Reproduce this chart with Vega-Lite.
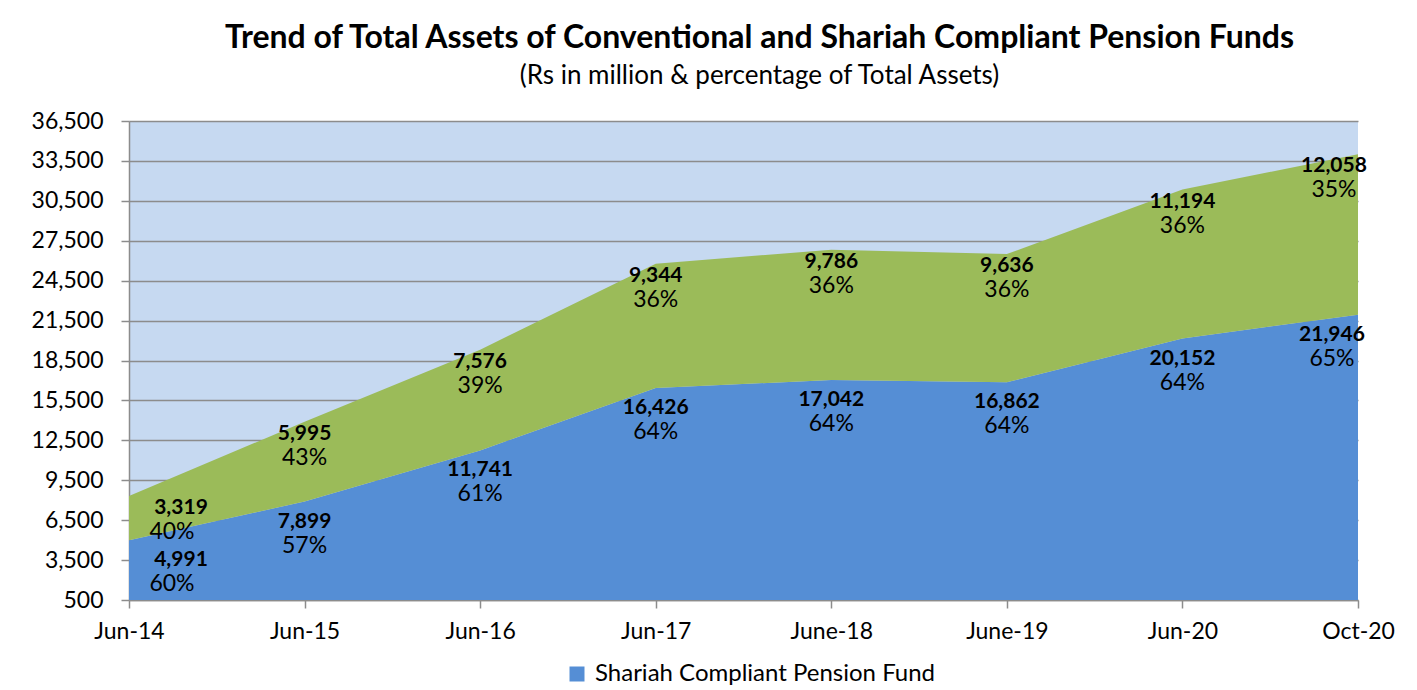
{
  "$schema": "https://vega.github.io/schema/vega-lite/v6.json",
  "width": 1229,
  "height": 479,
  "autosize": {"type": "none"},
  "padding": {"left": 129, "top": 121, "right": 59, "bottom": 90},
  "background": "white",
  "title": {
    "text": "Trend of Total Assets of Conventional and Shariah Compliant Pension  Funds",
    "subtitle": "(Rs in million & percentage of Total Assets)",
    "anchor": "middle",
    "font": "Lato",
    "fontSize": 32,
    "fontWeight": "bold",
    "color": "black",
    "subtitleFont": "Lato",
    "subtitleFontSize": 26,
    "subtitleColor": "black",
    "subtitlePadding": 8,
    "offset": 20,
    "dx": 16
  },
  "config": {
    "view": {"fill": "#c6d9f1", "stroke": null},
    "axis": {
      "labelFont": "Lato",
      "labelFontSize": 23,
      "labelColor": "black",
      "domainColor": "#8c8c8c",
      "domainWidth": 1.5,
      "tickColor": "#8c8c8c",
      "tickWidth": 1.5,
      "tickSize": 8,
      "gridColor": "#8c8c8c",
      "gridWidth": 1.5,
      "gridOpacity": 1,
      "title": null
    }
  },
  "data": {
    "values": [
      {"date": "Jun-14", "series": "Shariah Compliant Pension Fund", "value": 4991, "pct": "60%"},
      {"date": "Jun-15", "series": "Shariah Compliant Pension Fund", "value": 7899, "pct": "57%"},
      {"date": "Jun-16", "series": "Shariah Compliant Pension Fund", "value": 11741, "pct": "61%"},
      {"date": "Jun-17", "series": "Shariah Compliant Pension Fund", "value": 16426, "pct": "64%"},
      {"date": "June-18", "series": "Shariah Compliant Pension Fund", "value": 17042, "pct": "64%"},
      {"date": "June-19", "series": "Shariah Compliant Pension Fund", "value": 16862, "pct": "64%"},
      {"date": "Jun-20", "series": "Shariah Compliant Pension Fund", "value": 20152, "pct": "64%"},
      {"date": "Oct-20", "series": "Shariah Compliant Pension Fund", "value": 21946, "pct": "65%"},
      {"date": "Jun-14", "series": "Conventional Pension Fund", "value": 3319, "pct": "40%"},
      {"date": "Jun-15", "series": "Conventional Pension Fund", "value": 5995, "pct": "43%"},
      {"date": "Jun-16", "series": "Conventional Pension Fund", "value": 7576, "pct": "39%"},
      {"date": "Jun-17", "series": "Conventional Pension Fund", "value": 9344, "pct": "36%"},
      {"date": "June-18", "series": "Conventional Pension Fund", "value": 9786, "pct": "36%"},
      {"date": "June-19", "series": "Conventional Pension Fund", "value": 9636, "pct": "36%"},
      {"date": "Jun-20", "series": "Conventional Pension Fund", "value": 11194, "pct": "36%"},
      {"date": "Oct-20", "series": "Conventional Pension Fund", "value": 12058, "pct": "35%"}
    ]
  },
  "transform": [
    {"stack": "value", "groupby": ["date"], "sort": [{"field": "series", "order": "descending"}], "as": ["y0", "y1"]}
  ],
  "encoding": {
    "x": {
      "field": "date",
      "type": "ordinal",
      "sort": ["Jun-14", "Jun-15", "Jun-16", "Jun-17", "June-18", "June-19", "Jun-20", "Oct-20"],
      "scale": {"type": "point", "padding": 0},
      "axis": {"labelAngle": 0, "labelPadding": 12, "grid": false}
    },
    "y": {
      "field": "y1",
      "type": "quantitative",
      "scale": {"domain": [500, 36500], "nice": false, "zero": false},
      "axis": {
        "values": [500, 3500, 6500, 9500, 12500, 15500, 18500, 21500, 24500, 27500, 30500, 33500, 36500],
        "format": ",.0f",
        "labelPadding": 18,
        "grid": true
      }
    }
  },
  "layer": [
    {
      "mark": {"type": "area", "clip": true, "opacity": 1},
      "encoding": {
        "y2": {"field": "y0"},
        "color": {
          "field": "series",
          "type": "nominal",
          "scale": {"domain": ["Shariah Compliant Pension Fund", "Conventional Pension Fund"], "range": ["#558ed5", "#9bbb59"]},
          "legend": {
            "values": ["Shariah Compliant Pension Fund"],
            "title": null,
            "orient": "none",
            "legendX": 436,
            "legendY": 541,
            "direction": "horizontal",
            "symbolType": "square",
            "symbolSize": 225,
            "symbolOpacity": 1,
            "labelFont": "Lato",
            "labelFontSize": 24,
            "labelColor": "black",
            "labelOffset": 6,
            "labelLimit": 0
          }
        }
      }
    },
    {
      "transform": [{"filter": "datum.series == 'Shariah Compliant Pension Fund'"}],
      "mark": {"type": "text", "font": "Lato", "fontSize": 21, "fontWeight": "bold", "color": "black", "baseline": "middle",
        "dy": 20, "dx": {"expr": "datum.date == 'Jun-14' ? 52 : datum.date == 'Oct-20' ? -26 : 0"}},
      "encoding": {"text": {"field": "value", "type": "quantitative", "format": ","}}
    },
    {
      "transform": [{"filter": "datum.series == 'Shariah Compliant Pension Fund'"}],
      "mark": {"type": "text", "font": "Lato", "fontSize": 23, "color": "black", "baseline": "middle",
        "dy": 44, "dx": {"expr": "datum.date == 'Jun-14' ? 43 : datum.date == 'Oct-20' ? -26 : 0"}},
      "encoding": {"text": {"field": "pct", "type": "nominal"}}
    },
    {
      "transform": [{"filter": "datum.series == 'Conventional Pension Fund'"}],
      "mark": {"type": "text", "font": "Lato", "fontSize": 21, "fontWeight": "bold", "color": "black", "baseline": "middle",
        "dy": 12, "dx": {"expr": "datum.date == 'Jun-14' ? 52 : datum.date == 'Oct-20' ? -24 : 0"}},
      "encoding": {"text": {"field": "value", "type": "quantitative", "format": ","}}
    },
    {
      "transform": [{"filter": "datum.series == 'Conventional Pension Fund'"}],
      "mark": {"type": "text", "font": "Lato", "fontSize": 23, "color": "black", "baseline": "middle",
        "dy": 36, "dx": {"expr": "datum.date == 'Jun-14' ? 43 : datum.date == 'Oct-20' ? -24 : 0"}},
      "encoding": {"text": {"field": "pct", "type": "nominal"}}
    }
  ]
}
